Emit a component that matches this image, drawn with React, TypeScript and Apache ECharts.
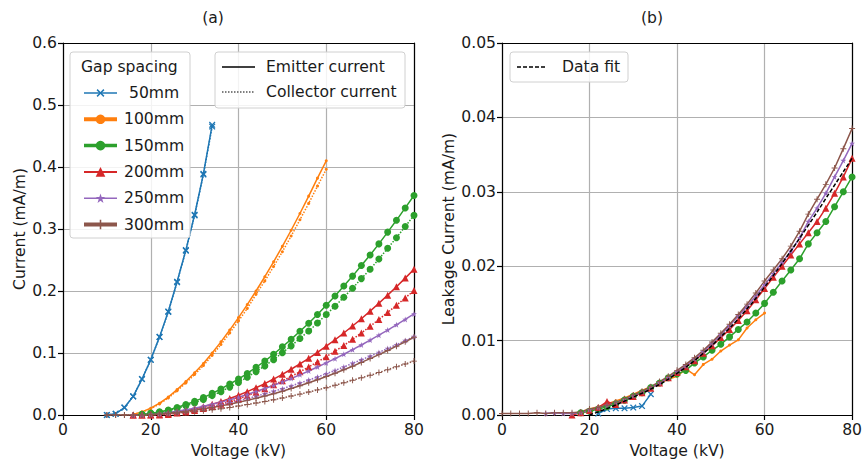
import React, { useEffect, useRef } from 'react';
import * as echarts from 'echarts';

// ---------- data ----------
const V_50 = [10, 12, 14, 16, 18, 20, 22, 24, 26, 28, 30, 32, 34];
const E_50 = [0, 0.002, 0.012, 0.03, 0.058, 0.089, 0.126, 0.167, 0.215, 0.266, 0.323, 0.389, 0.468];
const C_50 = [0, 0.002, 0.012, 0.03, 0.058, 0.089, 0.1258, 0.1662, 0.2141, 0.2651, 0.322, 0.3878, 0.4652];

const V_100 = [16, 18, 20, 22, 24, 26, 28, 30, 32, 34, 36, 38, 40, 42, 44, 46, 48, 50, 52, 54, 56, 58, 60];
const E_100 = [0.001, 0.005, 0.011, 0.019, 0.029, 0.041, 0.054, 0.068, 0.083, 0.1, 0.118, 0.137, 0.157, 0.178, 0.2, 0.223, 0.247, 0.272, 0.298, 0.325, 0.353, 0.382, 0.41];
const C_100 = [0.0008, 0.0046, 0.0102, 0.0179, 0.0275, 0.0391, 0.0517, 0.0652, 0.0797, 0.0962, 0.1137, 0.1322, 0.1518, 0.1718, 0.1946, 0.2162, 0.2395, 0.2634, 0.2886, 0.3149, 0.3413, 0.3692, 0.3963];

const V_150 = [18, 20, 22, 24, 26, 28, 30, 32, 34, 36, 38, 40, 42, 44, 46, 48, 50, 52, 54, 56, 58, 60, 62, 64, 66, 68, 70, 72, 74, 76, 78, 80];
const E_150 = [0.001, 0.003, 0.005, 0.008, 0.012, 0.017, 0.022, 0.028, 0.035, 0.042, 0.05, 0.058, 0.067, 0.077, 0.087, 0.098, 0.11, 0.122, 0.135, 0.148, 0.162, 0.177, 0.192, 0.208, 0.224, 0.241, 0.258, 0.276, 0.295, 0.314, 0.334, 0.354];
const C_150 = [0.001, 0.0025, 0.0042, 0.0069, 0.0105, 0.015, 0.0195, 0.025, 0.0313, 0.0377, 0.045, 0.0525, 0.061, 0.07, 0.0792, 0.0893, 0.1005, 0.1115, 0.1235, 0.1355, 0.1483, 0.162, 0.1755, 0.19, 0.2045, 0.22, 0.235, 0.2515, 0.269, 0.286, 0.304, 0.322];

const V_200 = [16, 18, 20, 22, 24, 26, 28, 30, 32, 34, 36, 38, 40, 42, 44, 46, 48, 50, 52, 54, 56, 58, 60, 62, 64, 66, 68, 70, 72, 74, 76, 78, 80];
const E_200 = [0, 0, 0.0003, 0.0012, 0.0026, 0.0045, 0.007, 0.0099, 0.0133, 0.0172, 0.0216, 0.0265, 0.0319, 0.0377, 0.044, 0.0507, 0.058, 0.0656, 0.0738, 0.0824, 0.0915, 0.101, 0.111, 0.1214, 0.1322, 0.1436, 0.1553, 0.1675, 0.1802, 0.1933, 0.2068, 0.2208, 0.2352];
const C_200 = [0, 0, 0, 0.0002, 0.0008, 0.0031, 0.005, 0.0074, 0.0103, 0.0136, 0.0173, 0.0215, 0.0262, 0.0312, 0.0367, 0.0424, 0.0487, 0.0552, 0.0623, 0.0697, 0.0775, 0.0855, 0.094, 0.1029, 0.1122, 0.1221, 0.1323, 0.143, 0.1542, 0.1655, 0.177, 0.1888, 0.2007];

const V_250 = [16, 18, 20, 22, 24, 26, 28, 30, 32, 34, 36, 38, 40, 42, 44, 46, 48, 50, 52, 54, 56, 58, 60, 62, 64, 66, 68, 70, 72, 74, 76, 78, 80];
const E_250 = [0, 0.0004, 0.0012, 0.0025, 0.0041, 0.0061, 0.0084, 0.0111, 0.014, 0.0173, 0.0208, 0.0246, 0.0287, 0.0331, 0.0378, 0.0427, 0.0478, 0.0532, 0.0589, 0.0648, 0.071, 0.0774, 0.084, 0.0909, 0.098, 0.1054, 0.1129, 0.1208, 0.1288, 0.137, 0.1455, 0.1542, 0.163];
const C_250 = [0, 0.0001, 0.0005, 0.0015, 0.0028, 0.0044, 0.0063, 0.0085, 0.0109, 0.0136, 0.0165, 0.0196, 0.0229, 0.0265, 0.0303, 0.0342, 0.0382, 0.0424, 0.0469, 0.0515, 0.0564, 0.0614, 0.0665, 0.0719, 0.0775, 0.0834, 0.0891, 0.0948, 0.101, 0.1072, 0.1135, 0.12, 0.1265];

const V_300 = [10, 12, 14, 16, 18, 20, 22, 24, 26, 28, 30, 32, 34, 36, 38, 40, 42, 44, 46, 48, 50, 52, 54, 56, 58, 60, 62, 64, 66, 68, 70, 72, 74, 76, 78, 80];
const E_300 = [0, 0, 0, 0.0001, 0.0005, 0.0012, 0.002, 0.0032, 0.0045, 0.0061, 0.0079, 0.01, 0.0122, 0.0147, 0.0174, 0.0204, 0.0236, 0.0269, 0.0306, 0.0344, 0.0384, 0.0427, 0.0472, 0.0519, 0.0569, 0.062, 0.0674, 0.073, 0.0787, 0.0848, 0.091, 0.0974, 0.1041, 0.111, 0.1181, 0.1254];
const C_300 = [0, 0, 0, 0, 0.0002, 0.0004, 0.001, 0.0019, 0.0028, 0.0039, 0.0052, 0.0068, 0.0084, 0.0102, 0.0122, 0.0144, 0.0168, 0.0192, 0.0219, 0.0246, 0.0274, 0.0305, 0.0337, 0.037, 0.0405, 0.044, 0.0479, 0.052, 0.056, 0.0601, 0.064, 0.0684, 0.0731, 0.0778, 0.0823, 0.0869];

// leakage (panel b)
const LV_50 = [22, 24, 26, 28, 30, 32, 34];
const L_50 = [0.0002, 0.0008, 0.0009, 0.0009, 0.001, 0.0012, 0.0028];
const L_100 = [0.0002, 0.0004, 0.0008, 0.0011, 0.0015, 0.0019, 0.0023, 0.0028, 0.0033, 0.0038, 0.0043, 0.0048, 0.0052, 0.0062, 0.0054, 0.0068, 0.0075, 0.0086, 0.0094, 0.0101, 0.0117, 0.0128, 0.0137];
const L_150 = [0.0003, 0.0005, 0.0008, 0.0011, 0.0015, 0.002, 0.0025, 0.003, 0.0037, 0.0043, 0.005, 0.0055, 0.006, 0.007, 0.0078, 0.0087, 0.0095, 0.0105, 0.0115, 0.0125, 0.0137, 0.015, 0.0165, 0.018, 0.0195, 0.021, 0.023, 0.0245, 0.026, 0.028, 0.03, 0.032];
const L_200 = [0, 0.0003, 0.0006, 0.001, 0.0018, 0.0014, 0.002, 0.0025, 0.003, 0.0036, 0.0043, 0.005, 0.0057, 0.0065, 0.0073, 0.0083, 0.0093, 0.0104, 0.0115, 0.0127, 0.014, 0.0155, 0.017, 0.0185, 0.02, 0.0215, 0.023, 0.0245, 0.026, 0.0278, 0.0298, 0.032, 0.0345];
const LV_250 = [10, 12, 14, 16, 18, 20, 22, 24, 26, 28, 30, 32, 34, 36, 38, 40, 42, 44, 46, 48, 50, 52, 54, 56, 58, 60, 62, 64, 66, 68, 70, 72, 74, 76, 78, 80];
const L_250 = [0.0002, 0.0003, 0.0002, 0.0002, 0.0003, 0.0007, 0.001, 0.0013, 0.0017, 0.0021, 0.0026, 0.0031, 0.0037, 0.0043, 0.005, 0.0058, 0.0066, 0.0075, 0.0085, 0.0096, 0.0108, 0.012, 0.0133, 0.0146, 0.016, 0.0175, 0.019, 0.0205, 0.022, 0.0238, 0.026, 0.0278, 0.0298, 0.032, 0.0342, 0.0365];
const LV_300 = [0, 2, 4, 6, 8, 10, 12, 14, 16, 18, 20, 22, 24, 26, 28, 30, 32, 34, 36, 38, 40, 42, 44, 46, 48, 50, 52, 54, 56, 58, 60, 62, 64, 66, 68, 70, 72, 74, 76, 78, 80];
const L_300 = [0.0002, 0.0002, 0.0002, 0.0002, 0.0003, 0.0002, 0.0003, 0.0003, 0.0003, 0.0004, 0.0008, 0.001, 0.0013, 0.0017, 0.0022, 0.0027, 0.0032, 0.0038, 0.0045, 0.0052, 0.006, 0.0068, 0.0077, 0.0087, 0.0098, 0.011, 0.0122, 0.0135, 0.0149, 0.0164, 0.018, 0.0195, 0.021, 0.0227, 0.0247, 0.027, 0.029, 0.031, 0.0332, 0.0358, 0.0385];
const FIT_V = [20, 25, 30, 35, 40, 45, 50, 55, 60, 65, 70, 75, 80];
const FIT_L = [0, 0.0011, 0.0024, 0.0038, 0.0056, 0.0078, 0.0105, 0.0136, 0.0172, 0.0212, 0.0255, 0.03, 0.0345];

const GAPS = ['50mm', '100mm', '150mm', '200mm', '250mm', '300mm'];

// ---------- styles ----------
const FONT = '"DejaVu Sans", Verdana, sans-serif';
const FS = 15.6;
const TXT = '#1a1a1a';
const COLORS = ['#1f77b4', '#ff7f0e', '#2ca02c', '#d62728', '#9467bd', '#8c564b'];
const PLUS = 'path://M4.2,0H5.8V4.2H10V5.8H5.8V10H4.2V5.8H0V4.2H4.2Z';
const STAR = 'path://M5,0L6.2,3.6L10,3.6L6.9,5.8L8.1,9.5L5,7.2L1.9,9.5L3.1,5.8L0,3.6L3.8,3.6Z';
const MARK = [
  { symbol: PLUS, size: 8, rotate: 45 },
  { symbol: 'circle', size: 3, rotate: 0 },
  { symbol: 'circle', size: 7, rotate: 0 },
  { symbol: 'triangle', size: 7, rotate: 0 },
  { symbol: STAR, size: 6, rotate: 0 },
  { symbol: PLUS, size: 6, rotate: 0 },
];

const pts = (xs: number[], ys: number[]) => xs.map((x, i) => [x, ys[i]]);

function line(name: string, xs: number[], ys: number[], k: number, dotted: boolean, panel: number) {
  const m = MARK[k];
  return {
    type: 'line',
    name,
    xAxisIndex: panel * 2,
    yAxisIndex: panel * 2,
    data: pts(xs, ys),
    color: COLORS[k],
    symbol: m.symbol,
    symbolSize: m.size,
    symbolRotate: m.rotate,
    showSymbol: true,
    lineStyle: { width: 1.5, type: dotted ? 'dotted' : 'solid', color: COLORS[k] },
    itemStyle: { color: COLORS[k] },
    z: 3,
  };
}

function axesFor(grid: number, yMax: number, yInt: number, dec: number, yName: string, yGap: number) {
  const axisLine = { show: true, onZero: false, lineStyle: { color: '#000', width: 1.2 } };
  const x = [
    {
      gridIndex: grid, type: 'value', min: 0, max: 80, interval: 20,
      name: 'Voltage (kV)', nameLocation: 'middle', nameGap: 27,
      nameTextStyle: { fontSize: FS, color: TXT, fontFamily: FONT },
      axisLine, axisTick: { show: true, length: 5, lineStyle: { color: '#000', width: 1.2 } },
      axisLabel: { fontSize: FS, color: TXT, fontFamily: FONT, margin: 7 },
      splitLine: { show: true, lineStyle: { color: '#b0b0b0', width: 1.2 } },
    },
    {
      gridIndex: grid, type: 'value', position: 'top', min: 0, max: 80, interval: 20,
      axisLine, axisTick: { show: false }, axisLabel: { show: false }, splitLine: { show: false },
    },
  ];
  const y = [
    {
      gridIndex: grid, type: 'value', min: 0, max: yMax, interval: yInt,
      name: yName, nameLocation: 'middle', nameGap: yGap,
      nameTextStyle: { fontSize: FS, color: TXT, fontFamily: FONT },
      axisLine, axisTick: { show: true, length: 5, lineStyle: { color: '#000', width: 1.2 } },
      axisLabel: { fontSize: FS, color: TXT, fontFamily: FONT, margin: 6, formatter: (v: number) => v.toFixed(dec) },
      splitLine: { show: true, lineStyle: { color: '#b0b0b0', width: 1.2 } },
    },
    {
      gridIndex: grid, type: 'value', position: 'right', min: 0, max: yMax, interval: yInt,
      axisLine, axisTick: { show: false }, axisLabel: { show: false }, splitLine: { show: false },
    },
  ];
  return { x, y };
}

function txt(text: string, x: number, y: number, align = 'left') {
  return { type: 'text', x, y, z: 20, style: { text, fill: TXT, font: `${FS}px ${FONT}`, textAlign: align, textVerticalAlign: 'middle' } };
}

function seg(x1: number, x2: number, y: number, color: string, dash: any) {
  return { type: 'line', z: 20, shape: { x1, y1: y, x2, y2: y }, style: { stroke: color, lineWidth: 1.5, lineDash: dash } };
}

function buildOption() {
  const a = axesFor(0, 0.6, 0.1, 1, 'Current (mA/m)', 34);
  const b = axesFor(1, 0.05, 0.01, 2, 'Leakage Current (mA/m)', 43);

  const emV = [V_50, V_100, V_150, V_200, V_250, V_300];
  const emI = [E_50, E_100, E_150, E_200, E_250, E_300];
  const coI = [C_50, C_100, C_150, C_200, C_250, C_300];
  const lkV = [LV_50, V_100, V_150, V_200, LV_250, LV_300];
  const lkI = [L_50, L_100, L_150, L_200, L_250, L_300];

  const series: any[] = [];
  GAPS.forEach((g, k) => {
    series.push(line(g, emV[k], emI[k], k, false, 0));
    series.push(line(g, emV[k], coI[k], k, true, 0));
  });
  GAPS.forEach((g, k) => {
    series.push(line('Leak ' + g, lkV[k], lkI[k], k, false, 1));
  });
  series.push({
    type: 'line', name: 'Data fit', xAxisIndex: 2, yAxisIndex: 2, data: pts(FIT_V, FIT_L),
    color: '#000', symbol: 'none', smooth: true,
    lineStyle: { color: '#000', width: 1.5, type: [4, 2] }, z: 5,
  });

  const legText = { fontSize: FS, color: TXT, fontFamily: FONT, lineHeight: 16 };
  const gapWidths = [1.6, 4, 3.5, 2, 1.6, 4];

  return {
    animation: false,
    backgroundColor: '#fff',
    textStyle: { fontFamily: FONT },
    grid: [
      { left: 63, top: 43, width: 351, height: 372, show: false },
      { left: 502, top: 43, width: 352, height: 372, show: false },
    ],
    xAxis: [...a.x, ...b.x],
    yAxis: [...a.y, ...b.y],
    legend: [
      {
        orient: 'vertical', left: 77, top: 80, itemWidth: 33, itemHeight: 12, itemGap: 10.3,
        z: 20, selectedMode: false,
        data: GAPS.map((g, k) => ({ name: g, lineStyle: { width: gapWidths[k] } })),
        formatter: (n: string) => (n === '50mm' ? ' ' + n : n),
        textStyle: { ...legText, padding: [0, 0, 0, 2] },
      },
    ],
    graphic: [
      txt('(a)', 213, 18, 'center'),
      txt('(b)', 652, 18, 'center'),
      { type: 'rect', z: 15, shape: { x: 70, y: 52, width: 120, height: 186, r: 3 }, style: { fill: 'rgba(255,255,255,0.85)', stroke: '#d0d0d0', lineWidth: 1 } },
      { type: 'rect', z: 15, shape: { x: 215, y: 52, width: 190, height: 56, r: 3 }, style: { fill: 'rgba(255,255,255,0.85)', stroke: '#d0d0d0', lineWidth: 1 } },
      { type: 'rect', z: 15, shape: { x: 510, y: 52, width: 118, height: 30, r: 3 }, style: { fill: 'rgba(255,255,255,0.85)', stroke: '#d0d0d0', lineWidth: 1 } },
      txt('Gap spacing', 81, 67),
      seg(222, 255, 67, '#000', null),
      txt('Emitter current', 266, 67),
      seg(222, 255, 92, '#555', [1.5, 1.5]),
      txt('Collector current', 266, 92),
      seg(517, 547, 67, '#000', [4, 2]),
      txt('Data fit', 562, 67),
    ],
    series,
  };
}

export default function App() {
  const ref = useRef<HTMLDivElement>(null);
  useEffect(() => {
    if (!ref.current) return;
    const chart = echarts.init(ref.current, null, { renderer: 'svg' });
    chart.setOption(buildOption() as any);
    return () => chart.dispose();
  }, []);
  return <div ref={ref} style={{ position: 'fixed', left: 0, top: 0, width: 865, height: 466 }} />;
}
